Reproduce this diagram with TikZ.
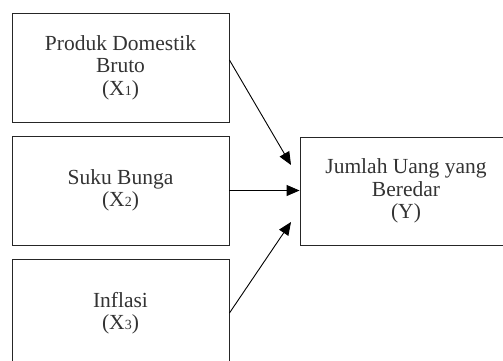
\documentclass[tikz,border=0pt]{standalone}
\usepackage{fontspec}
\setmainfont{Liberation Serif}
\usetikzlibrary{arrows.meta,calc}
\newcommand{\sbx}[1]{{\fontsize{14}{14}\selectfont #1}}
\begin{document}
\begin{tikzpicture}[x=1pt,y=-1pt,
  vbox/.style={draw=black!85,line width=0.9pt,inner sep=0pt,align=center,
    font=\fontsize{21.5}{22.5}\selectfont,text=black!80},
  conn/.style={line width=0.9pt,-{Triangle[length=13pt,width=11pt]}}]
\useasboundingbox (0,0) rectangle (503,360);
\clip (0,0) rectangle (503,360);
\node[vbox,minimum width=217pt,minimum height=109pt] (b1) at (120.5,67.5)
  {\raisebox{-4pt}{\parbox{200pt}{\centering Produk Domestik\\Bruto\\(X\sbx{1})}}};
\node[vbox,minimum width=217pt,minimum height=109pt] (b2) at (120.5,190.5)
  {Suku Bunga\\(X\sbx{2})};
\node[vbox,minimum width=217pt,minimum height=108pt] (b3) at (120.5,313)
  {Inflasi\\(X\sbx{3})};
\node[vbox,minimum width=212pt,minimum height=108pt] (y) at (406,191)
  {Jumlah Uang yang\\Beredar\\(Y)};
\coordinate (t1) at (291,165);
\coordinate (t3) at (291,222);
\draw[conn] ($(b1.east)+(0,-7.5)$) -- (t1);
\draw[conn] (b2.east) -- (b2.east -| y.west);
\draw[conn] (b3.east) -- (t3);
\end{tikzpicture}
\end{document}
